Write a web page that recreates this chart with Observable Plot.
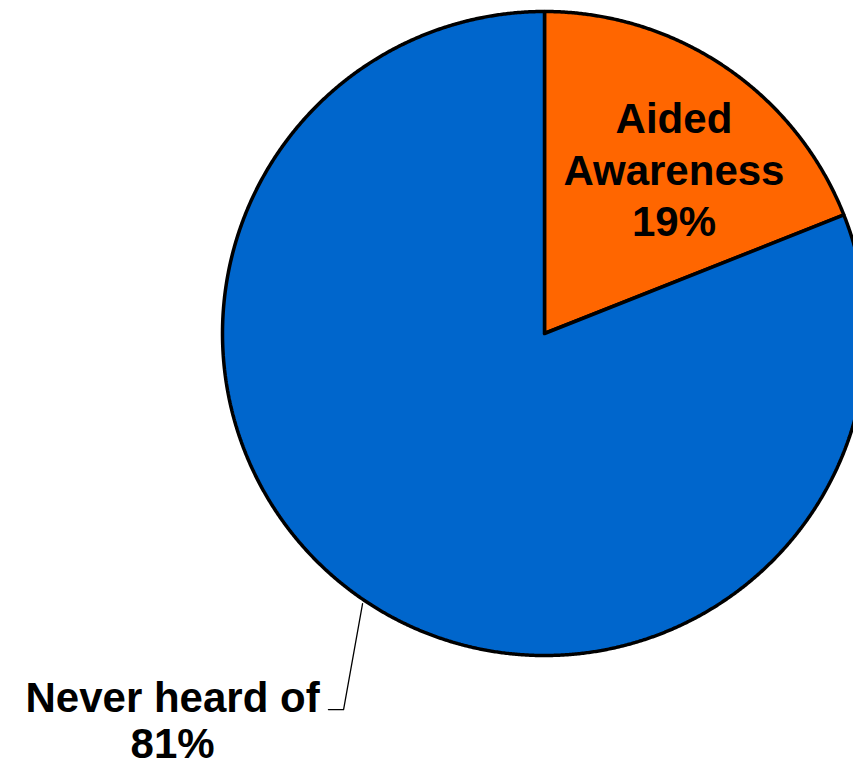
<!DOCTYPE html>
<html>
<head>
<meta charset="utf-8">
<script src="https://cdn.jsdelivr.net/npm/d3@7"></script>
<script src="https://cdn.jsdelivr.net/npm/@observablehq/plot@0.6"></script>
<style>
  html, body { margin: 0; padding: 0; background: #fff; overflow: hidden; }
  #chart svg { display: block; }
</style>
</head>
<body>
<div id="chart"></div>
<script>
// ---- data ----
const categories = ["Aided Awareness", "Never heard of"];
const values = [19, 81];
const labels = ["Aided\nAwareness\n19%", "Never heard of\n81%"];

// ---- styling / layout (not data) ----
const colors = ["#FF6600", "#0066CC"];
const labelPos = [ {x: 0.402, y: 0.513}, {x: -1.155, y: -1.202} ];
const lineHeights = [1.22, 1.08];
const leader = [ {x: -0.565, y: -0.839}, {x: -0.624, y: -1.168}, {x: -0.671, y: -1.168} ];

// slice geometry from values via d3.pie (start at top, clockwise)
const arcs = d3.pie().sort(null).value(d => d)(values);
const pts = [];
arcs.forEach((a, i) => {
  const name = categories[i];
  pts.push({name, x: 0, y: 0});
  const n = Math.max(2, Math.ceil((a.endAngle - a.startAngle) / (Math.PI / 720)));
  for (let k = 0; k <= n; k++) {
    const t = a.startAngle + (a.endAngle - a.startAngle) * k / n;
    pts.push({name, x: Math.sin(t), y: Math.cos(t)});
  }
  pts.push({name, x: 0, y: 0});
});

const labelData = categories.map((c, i) => ({name: c, text: labels[i], ...labelPos[i]}));

const textMarks = labelData.map((d, i) => Plot.text([d], {
  x: "x", y: "y", text: "text", fontSize: 42, fontWeight: "bold",
  fontFamily: "'Liberation Sans', Arial, sans-serif", fill: "black",
  lineHeight: lineHeights[i], textAnchor: "middle"
}));

const plot = Plot.plot({
  width: 853,
  height: 766,
  margin: 0,
  style: {background: "white", overflow: "hidden"},
  x: {domain: [-1, 1], range: [222, 866], axis: null},
  y: {domain: [-1, 1], range: [655, 11], axis: null},
  color: {domain: categories, range: colors},
  marks: [
    Plot.line(pts, {x: "x", y: "y", z: "name", fill: "name", stroke: "black", strokeWidth: 3.5, strokeLinejoin: "miter", curve: "linear"}),
    Plot.line(leader, {x: "x", y: "y", stroke: "black", strokeWidth: 1.3, curve: "linear"}),
    ...textMarks
  ]
});
document.getElementById("chart").appendChild(plot);
</script>
</body>
</html>
